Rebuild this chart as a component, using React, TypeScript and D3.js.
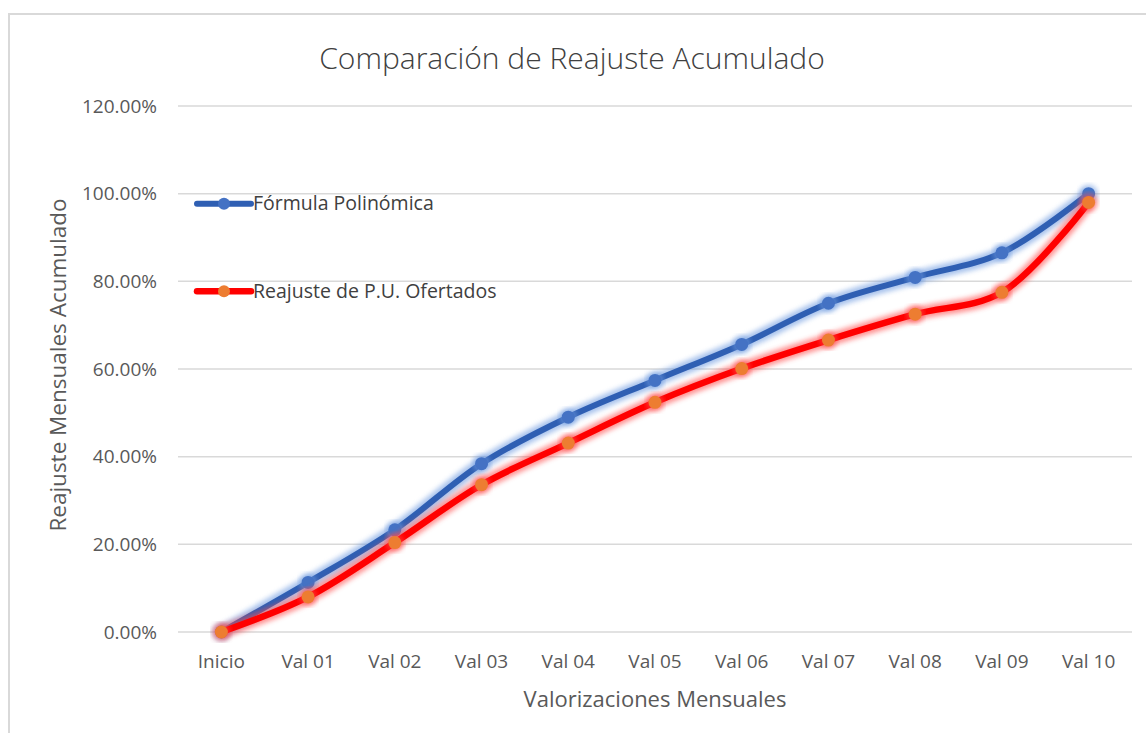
import React from "react";
import * as d3 from "d3";

// Datos
const categories = ["Inicio", "Val 01", "Val 02", "Val 03", "Val 04", "Val 05", "Val 06", "Val 07", "Val 08", "Val 09", "Val 10"];
const formulaPolinomica = [0, 11.3, 23.3, 38.4, 49.0, 57.4, 65.6, 75.0, 80.9, 86.5, 100.0];
const reajustePU = [0, 8.0, 20.4, 33.6, 43.1, 52.4, 60.1, 66.6, 72.5, 77.5, 98.0];
const yTicks = [0, 20, 40, 60, 80, 100, 120];

const font = "'Open Sans', Lato, sans-serif";

const App = () => {
  const width = 1146;
  const height = 733;
  const margin = { top: 106, right: 14, bottom: 101, left: 178 };
  const innerWidth = 1132 - margin.left;
  const innerHeight = 632 - margin.top;

  const x = d3.scalePoint<string>().domain(categories).range([0, innerWidth]).padding(0.5);
  const y = d3.scaleLinear().domain([0, 120]).range([innerHeight, 0]);

  const line = d3
    .line<number>()
    .x((_, i) => x(categories[i]) as number)
    .y((d) => y(d))
    .curve(d3.curveCatmullRom.alpha(0.5));

  const series = [
    { name: "Fórmula Polinómica", values: formulaPolinomica, stroke: "#2f5fb3", glow: "#6f9be0", marker: "#4472c4", width: 6, legendY: y(100) + 10 },
    { name: "Reajuste de P.U. Ofertados", values: reajustePU, stroke: "#ff0000", glow: "#ff4848", marker: "#ed7d31", width: 6.5, legendY: y(80) + 10 },
  ];

  return (
    <svg width={width} height={height} style={{ position: "absolute", left: 0, top: 0, background: "#fff" }}>
      <defs>
        <filter id="glow" x="-10%" y="-10%" width="120%" height="120%">
          <feGaussianBlur stdDeviation="2.5" />
        </filter>
      </defs>
      <rect x={9} y={14} width={1150} height={740} fill="#fff" stroke="#d9d9d9" strokeWidth={2} />

      <text x={572} y={69} textAnchor="middle" fontFamily={font} fontSize={30} fontWeight={300} fill="#404040">
        Comparación de Reajuste Acumulado
      </text>

      <g transform={`translate(${margin.left},${margin.top})`}>
        {yTicks.map((t) => (
          <g key={t}>
            <line x1={0} x2={innerWidth} y1={y(t)} y2={y(t)} stroke="#d9d9d9" strokeWidth={1.5} />
            <text x={-21} y={y(t)} dy="0.35em" textAnchor="end" fontFamily={font} fontSize={19} fill="#595959">
              {d3.format(".2f")(t)}%
            </text>
          </g>
        ))}

        {categories.map((c) => (
          <text key={c} x={x(c)} y={innerHeight + 36} textAnchor="middle" fontFamily={font} fontSize={19} fill="#595959">
            {c}
          </text>
        ))}

        {series.map((s) => (
          <g key={s.name}>
            <path d={line(s.values) || ""} fill="none" stroke={s.glow} strokeWidth={13} opacity={0.6} filter="url(#glow)" />
            <path d={line(s.values) || ""} fill="none" stroke={s.stroke} strokeWidth={s.width} strokeLinecap="round" />
            {s.values.map((v, i) => (
              <g key={i}>
                <circle cx={x(categories[i])} cy={y(v)} r={9} fill={s.glow} opacity={0.6} filter="url(#glow)" />
                <circle cx={x(categories[i])} cy={y(v)} r={6.5} fill={s.marker} />
              </g>
            ))}
          </g>
        ))}

        {series.map((s) => (
          <g key={s.name + "-leg"} transform={`translate(19,${s.legendY})`}>
            <line x1={0} x2={54} y1={0} y2={0} stroke={s.stroke} strokeWidth={s.width} strokeLinecap="round" />
            <circle cx={27} cy={0} r={6} fill={s.marker} />
            <text x={56} y={0} dy="0.35em" fontFamily={font} fontSize={19.5} fill="#404040">
              {s.name}
            </text>
          </g>
        ))}
      </g>

      <text x={655} y={707} textAnchor="middle" fontFamily={font} fontSize={22} fill="#595959">
        Valorizaciones Mensuales
      </text>
      <text
        transform={`translate(66,365) rotate(-90)`}
        textAnchor="middle"
        fontFamily={font}
        fontSize={22.5}
        fill="#595959"
      >
        Reajuste Mensuales Acumulado
      </text>
    </svg>
  );
};

export default App;
